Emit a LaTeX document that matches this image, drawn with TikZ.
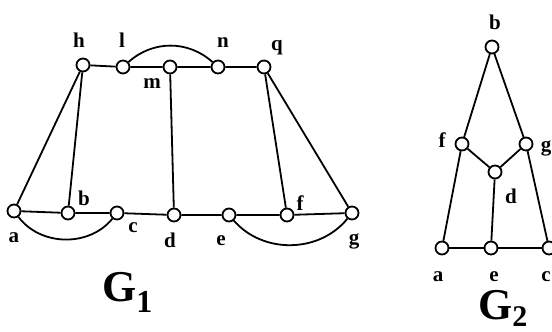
\documentclass[tikz,border=0pt]{standalone}
\usepackage{fontspec}
\setmainfont{Liberation Serif}
\usetikzlibrary{positioning}
\begin{document}
\begin{tikzpicture}[x=1pt,y=1pt,
 vtx/.style={draw,circle,line width=1.8pt,fill=white,inner sep=0pt,minimum size=13pt},
 lbl/.style={font=\fontsize{21}{21}\selectfont\bfseries,inner sep=0pt},
 ttl/.style={font=\fontsize{44}{44}\selectfont\bfseries,inner sep=0pt,anchor=base west},
 link/.style={line width=1.8pt}]
 \useasboundingbox (0,0) rectangle (552,332);
 % G1
 \foreach \n/\x/\y in {h/83/267,l/123/265,m/170/265,n/218/265,q/264/265,
   a/14/121,b/68/119,c/117/119,d/174/117,e/229/117,f/287/117,g/352/119}
   \node[vtx] (\n) at (\x,\y) {};
 \draw[link] (h)--(l)--(m)--(n)--(q);
 \draw[link] (a)--(b)--(c)--(d)--(e)--(f)--(g);
 \draw[link] (h)--(a) (h)--(b) (m)--(d) (q)--(f) (q)--(g);
 \draw[link] (l) to[bend left=42] (n);
 \draw[link] (a) to[bend right=52] (c);
 \draw[link] (e) to[bend right=50] (g);
 \foreach \n/\x/\y in {h/79/292,l/122/292,n/223/289,m/152/248,q/277/284,
   b/84/134,c/133/104,a/14/94,d/170/92,e/221/91,f/300/129,g/354/91}
   \node[lbl] (lab-\n) at (\x,\y) {\n};
 \node[ttl] (G1) at (102,30) {G\raisebox{-11pt}{\fontsize{32}{32}\selectfont 1}};
 % G2
 \foreach \n/\x/\y in {b2/492/285,f2/462/188,g2/526/188,d2/495/160,
   a2/442/84,e2/491/84,c2/549/84}
   \node[vtx] (\n) at (\x,\y) {};
 \draw[link] (f2)--(b2)--(g2);
 \draw[link] (f2)--(d2)--(g2);
 \draw[link] (a2)--(f2) (g2)--(c2) (d2)--(e2);
 \draw[link] (a2)--(e2)--(c2);
 \foreach \n/\t/\x/\y in {b2/b/495/310,f2/f/442/192,g2/g/546/184,d2/d/511/136,
   a2/a/438/55,e2/e/494/55,c2/c/546/55}
   \node[lbl] (lab-\n) at (\x,\y) {\t};
 \node[ttl] (G2) at (478,12) {G\raisebox{-7pt}{\fontsize{30}{30}\selectfont 2}};
\end{tikzpicture}
\end{document}
